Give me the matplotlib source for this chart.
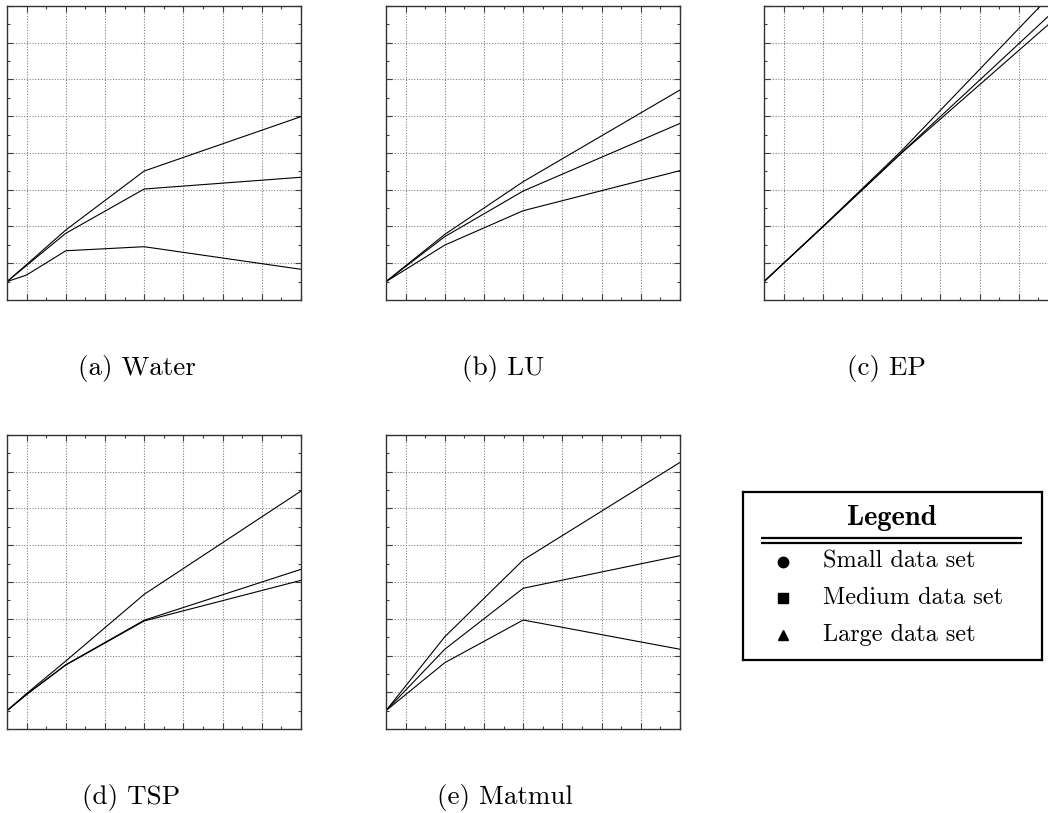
import matplotlib
matplotlib.use("Agg")
import matplotlib.pyplot as plt

# ---------------- data ----------------
procs = [1, 2, 4, 8, 16]

water_small = [1, 1.36, 2.68, 2.90, 1.67]
water_medium = [1, 1.88, 3.63, 6.04, 6.68]
water_large = [1, 1.93, 3.81, 7.02, 9.98]

lu_small = [1, 1.66, 2.99, 4.86, 7.04]
lu_medium = [1, 1.82, 3.45, 5.93, 9.61]
lu_large = [1, 1.86, 3.57, 6.44, 11.43]

ep_small = [1, 2.0, 3.98, 7.98, 15.45]
ep_medium = [1, 2.0, 3.98, 8.0, 15.93]
ep_large = [1, 2.0, 4.0, 8.1, 17.0]

tsp_small = [1, 1.88, 3.48, 5.88, 8.09]
tsp_medium = [1, 1.88, 3.50, 5.92, 8.69]
tsp_large = [1, 1.93, 3.70, 7.33, 12.95]

matmul_small = [1, 1.87, 3.61, 5.93, 4.34]
matmul_medium = [1, 2.11, 4.34, 7.66, 9.43]
matmul_large = [1, 2.34, 5.02, 9.20, 14.51]

captions = ["(a) Water", "(b) LU", "(c) EP", "(d) TSP", "(e) Matmul"]
legend_title = "Legend"
legend_labels = ["Small data set", "Medium data set", "Large data set"]
legend_markers = ["o", "s", "^"]

panels = [
    (water_small, water_medium, water_large),
    (lu_small, lu_medium, lu_large),
    (ep_small, ep_medium, ep_large),
    (tsp_small, tsp_medium, tsp_large),
    (matmul_small, matmul_medium, matmul_large),
]

# ---------------- layout (pixels) ----------------
W, H = 1048, 813
fig = plt.figure(figsize=(W / 100, H / 100), dpi=100)

boxes = [(7, 6), (386, 6), (764, 6), (7, 435), (386, 435)]
size = 294
caption_pos = [(137, 368), (503, 368), (886, 368), (131, 797), (505, 797)]


def px_rect(left, top, w, h):
    return [left / W, (H - top - h) / H, w / W, h / H]


for (left, top), series in zip(boxes, panels):
    ax = fig.add_axes(px_rect(left, top, size, size))
    for s in series:
        ax.plot(procs, s, color="black", linewidth=0.8, solid_joinstyle="miter")
    ax.set_xlim(1, 16)
    ax.set_ylim(0, 16)
    ax.set_xticks(range(2, 17, 2))
    ax.set_xticks(range(3, 16, 2), minor=True)
    ax.set_yticks(range(2, 17, 2))
    ax.set_yticks(range(1, 16, 2), minor=True)
    ax.tick_params(which="both", direction="in", top=True, right=True,
                   labelleft=False, labelbottom=False, width=0.8, color="0.25")
    ax.tick_params(which="major", length=4)
    ax.tick_params(which="minor", length=2.5)
    ax.grid(True, which="major", linestyle=(0, (1, 1.5)), color="0.5", linewidth=0.8)
    for sp in ax.spines.values():
        sp.set_linewidth(1.0)
        sp.set_color("0.2")

for text, (x, y) in zip(captions, caption_pos):
    fig.text(x / W, 1 - y / H, text, ha="center", va="center",
             fontsize=19.5, family="cmr10")

# ---------------- legend box ----------------
lx0, lx1, ly0, ly1 = 742.7, 1041.7, 491.7, 660.0
lax = fig.add_axes(px_rect(lx0, ly0, lx1 - lx0, ly1 - ly0))
lax.set_xlim(lx0, lx1)
lax.set_ylim(ly1, ly0)
lax.set_xticks([])
lax.set_yticks([])
for sp in lax.spines.values():
    sp.set_linewidth(1.6)
    sp.set_color("black")

lax.text(892, 518, legend_title, ha="center", va="center", fontsize=20.5, family="cmb10")
lax.plot([760.7, 1021.7], [538, 538], color="black", linewidth=1.6, solid_capstyle="butt")
lax.plot([760.7, 1021.7], [542.7, 542.7], color="black", linewidth=1.6, solid_capstyle="butt")

row_y = [561.7, 598.3, 635.0]
for lab, mk, y in zip(legend_labels, legend_markers, row_y):
    lax.plot([783], [y], marker=mk, color="black", markersize=7.5 if mk != "s" else 7,
             linestyle="none")
    lax.text(823, y, lab, ha="left", va="center", fontsize=17.5, family="cmr10")

fig.savefig("out.png", dpi=100)
